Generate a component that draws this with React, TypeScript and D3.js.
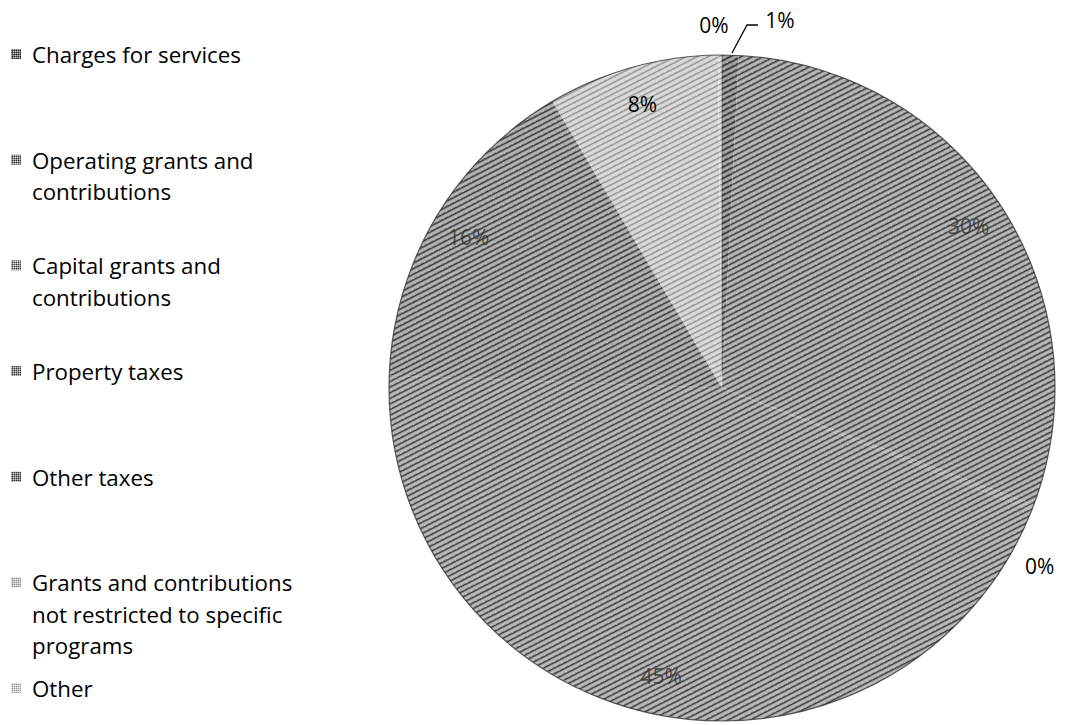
import React from 'react';
import * as d3 from 'd3';

// Revenue sources, in percent of total
const categories = [
  'Charges for services',
  'Operating grants and contributions',
  'Capital grants and contributions',
  'Property taxes',
  'Other taxes',
  'Grants and contributions not restricted to specific programs',
  'Other',
];
const shares = [0.8, 29.9, 0.3, 44.6, 15.9, 8.3, 0.2];
const valueLabels = ['1%', '30%', '0%', '45%', '16%', '8%', '0%'];

// legend text, broken as in the picture
const legendLines = [
  ['Charges for services'],
  ['Operating grants and', 'contributions'],
  ['Capital grants and', 'contributions'],
  ['Property taxes'],
  ['Other taxes'],
  ['Grants and contributions', 'not restricted to specific', 'programs'],
  ['Other'],
];

// grey tones of the halftone fills
const tones = ['#6f6f6f', '#8b8b8b', '#9c9c9c', '#8e8e8e', '#868686', '#c6c6c6', '#d4d4d4'];

const W = 1076;
const H = 725;
const cx = 722;
const cy = 388;
const R = 333;
const font = "'Open Sans', 'Noto Sans', sans-serif";

type Slice = d3.PieArcDatum<number>;

const App: React.FC = () => {
  const pie = d3.pie<number>().sort(null).value((d) => d);
  const slices: Slice[] = pie(shares);
  const arc = d3.arc<Slice>().innerRadius(0).outerRadius(R);
  const labelArc = d3.arc<Slice>().innerRadius(295).outerRadius(295);

  const legendY = d3
    .scalePoint<string>()
    .domain(categories)
    .range([63, 697]);

  // where each data label goes
  const labelPos = (s: Slice, i: number): { x: number; y: number; inside: boolean } => {
    if (shares[i] >= 2) {
      const [x, y] = labelArc.centroid(s);
      return { x, y, inside: true };
    }
    const mid = (s.startAngle + s.endAngle) / 2;
    if (i === 0) return { x: 780 - cx, y: 20 - cy, inside: false };
    if (i === categories.length - 1) return { x: 714 - cx, y: 25 - cy, inside: false };
    // small slice on the right side: pushed below by the layout
    const a = mid + 0.17;
    return { x: Math.sin(a) * (R + 16) + 18, y: -Math.cos(a) * (R + 16), inside: false };
  };

  const blackOp = (i: number) => (i >= 5 ? 0.28 : 0.6);

  return (
    <div style={{ position: 'absolute', left: 0, top: 0 }}>
      <svg width={W} height={H} style={{ display: 'block', background: '#fff' }}>
        <defs>
          {tones.map((c, i) => (
            <pattern
              key={i}
              id={`ht${i}`}
              width={6}
              height={5}
              patternUnits="userSpaceOnUse"
              patternTransform="rotate(-27)"
            >
              <rect width={6} height={5} fill={c} />
              <line x1={0} x2={6} y1={1} y2={1} stroke="#fff" strokeWidth={1.1} opacity={0.75} />
              <line x1={0} x2={6} y1={3.5} y2={3.5} stroke="#000" strokeWidth={1} opacity={blackOp(i)} />
              <rect x={2} y={2} width={1} height={1} fill="#fff" opacity={0.5} />
            </pattern>
          ))}
          {tones.map((c, i) => (
            <pattern key={`s${i}`} id={`sw${i}`} width={2} height={2} patternUnits="userSpaceOnUse">
              <rect width={2} height={2} fill={c} />
              <rect width={1} height={1} fill="#000" opacity={blackOp(i)} />
              <rect x={1} y={1} width={1} height={1} fill="#fff" opacity={0.6} />
            </pattern>
          ))}
        </defs>

        {/* pie */}
        <g transform={`translate(${cx},${cy})`}>
          {slices.map((s, i) => (
            <path key={i} d={arc(s) || ''} fill={`url(#ht${i})`} stroke="none" />
          ))}
          <circle r={R} fill="none" stroke="#2a2a2a" strokeWidth={1.2} opacity={0.75} />
          <line x1={0} x2={0} y1={-R} y2={-15} stroke="#222" strokeWidth={1} opacity={0.45} />

          {/* leader line for the 1% slice */}
          <polyline
            points={`${732 - cx},${53 - cy} ${747 - cx},${25 - cy} ${758 - cx},${25 - cy}`}
            fill="none"
            stroke="#000"
            strokeWidth={1.3}
          />

          {slices.map((s, i) => {
            const p = labelPos(s, i);
            return (
              <text
                key={i}
                x={p.x}
                y={p.y}
                dy="0.36em"
                textAnchor="middle"
                fontFamily={font}
                fontSize={21}
                fill={p.inside ? (i === 5 ? '#000' : '#333') : '#000'}
                opacity={p.inside && i !== 5 ? 0.8 : 1}
              >
                {valueLabels[i]}
              </text>
            );
          })}
        </g>

        {/* legend */}
        <g>
          {categories.map((c, i) => {
            const y0 = legendY(c) as number;
            return (
              <g key={c}>
                <rect x={11} y={y0 - 14} width={10} height={10} fill={`url(#sw${i})`} />
                <text fontFamily={font} fontSize={22.3} fill="#000">
                  {legendLines[i].map((ln, k) => (
                    <tspan key={k} x={32} y={y0 + k * 31.5}>
                      {ln}
                    </tspan>
                  ))}
                </text>
              </g>
            );
          })}
        </g>
      </svg>
    </div>
  );
};

export default App;
